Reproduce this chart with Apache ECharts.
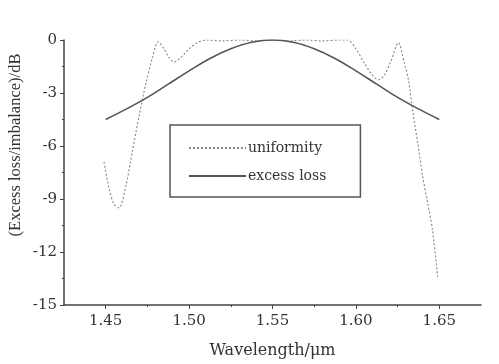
<!DOCTYPE html>
<html>
<head>
<meta charset="utf-8">
<script src="https://cdn.jsdelivr.net/npm/echarts@6/dist/echarts.min.js"></script>
<style>
html,body{margin:0;padding:0;background:#fff;}
#c{width:499px;height:364px;}
</style>
</head>
<body>
<div id="c"></div>
<script>
// Data
var uniformityX = [1.449,1.452,1.455,1.458,1.462,1.466,1.470,1.474,1.478,1.4815,1.485,1.488,1.491,1.495,1.500,1.505,1.510,1.520,1.530,1.540,1.550,1.560,1.570,1.580,1.590,1.595,1.600,1.605,1.610,1.6135,1.617,1.621,1.6255,1.629,1.6315,1.634,1.637,1.640,1.643,1.646,1.649];
var uniformityY = [-6.9,-8.4,-9.3,-9.5,-8.3,-6.3,-4.3,-2.5,-1.0,-0.1,-0.5,-1.0,-1.25,-1.0,-0.5,-0.15,0,-0.05,0,-0.05,0,-0.05,0,-0.05,0,0,-0.5,-1.3,-2.0,-2.25,-2.0,-1.2,-0.15,-1.3,-2.25,-4.0,-5.8,-7.7,-9.2,-10.8,-13.4];
var lossX = [1.45,1.4625,1.475,1.4875,1.50,1.5125,1.525,1.5375,1.55,1.5625,1.575,1.5875,1.60,1.6125,1.625,1.6375,1.65];
var lossY = [-4.5,-3.9,-3.25,-2.5,-1.75,-1.05,-0.5,-0.13,0,-0.13,-0.5,-1.05,-1.75,-2.5,-3.25,-3.9,-4.5];
var xTicks = [1.45,1.50,1.55,1.60,1.65];
var xMinorTicks = [1.475,1.525,1.575,1.625];
var seriesNames = ['uniformity','excess loss'];
var yName = '(Excess loss/imbalance)/dB';
var xName = 'Wavelength/μm';

function zip(a,b){return a.map(function(v,i){return [v,b[i]];});}

var serifL = '"Liberation Serif","DejaVu Serif",serif';
var serifD = '"DejaVu Serif","Liberation Serif",serif';
var axisColor = '#444';
var txt = '#333';
var chart = echarts.init(document.getElementById('c'));
chart.setOption({
  backgroundColor:'#fff',
  animation:false,
  grid:{left:64,right:18,top:40,bottom:56},
  legend:{
    orient:'vertical',
    left:170, top:125,
    data:seriesNames,
    itemWidth:57, itemHeight:10, itemGap:14,
    padding:[16,34,14,18],
    borderColor:'#555', borderWidth:1.5,
    itemStyle:{opacity:0},
    textStyle:{fontFamily:serifD,fontSize:14,color:txt,padding:[0,0,0,-3]}
  },
  graphic:[{
    type:'text', x:16, y:145, rotation:Math.PI/2,
    style:{text:yName, fontFamily:serifL, fontSize:16.5, fill:txt, align:'center', verticalAlign:'middle'}
  }],
  xAxis:[{
    type:'value', min:1.425, max:1.675,
    name:xName, nameLocation:'middle', nameGap:38,
    nameTextStyle:{fontFamily:serifD,fontSize:16,color:txt},
    axisLine:{onZero:false,lineStyle:{color:axisColor,width:1.5}},
    axisTick:{customValues:xTicks,length:4,lineStyle:{color:axisColor}},
    axisLabel:{customValues:xTicks,fontFamily:serifD,fontSize:15,color:txt,margin:9,
      formatter:function(v){return v.toFixed(2);}},
    splitLine:{show:false}
  },{
    type:'value', min:1.425, max:1.675, position:'bottom',
    axisLine:{show:false,onZero:false},
    axisTick:{customValues:xMinorTicks,length:2,lineStyle:{color:axisColor}},
    axisLabel:{show:false},
    splitLine:{show:false}
  }],
  yAxis:{
    type:'value', min:-15, max:0, interval:3,
    axisLine:{show:true,onZero:false,lineStyle:{color:axisColor,width:1.5}},
    axisTick:{show:true,length:4,lineStyle:{color:axisColor}},
    minorTick:{show:true,splitNumber:2,length:2,lineStyle:{color:axisColor}},
    axisLabel:{fontFamily:serifD,fontSize:15,color:txt,margin:7},
    splitLine:{show:false}
  },
  series:[{
    name:seriesNames[0], type:'line', xAxisIndex:0,
    data:zip(uniformityX,uniformityY),
    showSymbol:false, symbol:'none', smooth:0.3,
    lineStyle:{color:'#8c8c8c',width:1.2,type:[2,2]},
    itemStyle:{color:'#8c8c8c'}
  },{
    name:seriesNames[1], type:'line', xAxisIndex:0,
    data:zip(lossX,lossY),
    showSymbol:false, symbol:'none', smooth:0.4,
    lineStyle:{color:'#555',width:1.6},
    itemStyle:{color:'#555'}
  }]
});
</script>
</body>
</html>
